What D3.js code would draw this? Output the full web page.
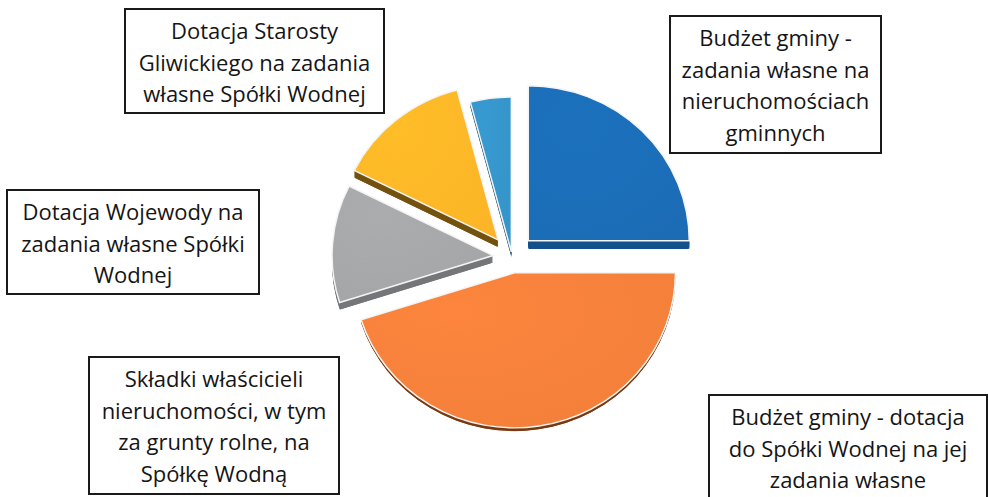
<!DOCTYPE html>
<html lang="pl">
  <head>
    <meta charset="UTF-8" />
    <title>pie - d3</title>
    <script src="https://d3js.org/d3.v7.min.js"></script>
  </head>
  <style>
    html,
    body {
      margin: 0;
      padding: 0;
      background: #fff;
    }
    svg {
      display: block;
    }
    .box rect {
      fill: #fff;
      stroke: #1a1a1a;
      stroke-width: 2;
    }
    .box text {
      font-family: "Open Sans", sans-serif;
      font-size: 22px;
      fill: #151515;
      text-anchor: middle;
    }
  </style>
  <body>
    <script>
      // dane
      var categories = [
        "Budżet gminy - zadania własne na nieruchomościach gminnych",
        "Budżet gminy - dotacja do Spółki Wodnej na jej zadania własne",
        "Składki właścicieli nieruchomości, w tym za grunty rolne, na Spółkę Wodną",
        "Dotacja Wojewody na zadania własne Spółki Wodnej",
        "Dotacja Starosty Gliwickiego na zadania własne Spółki Wodnej",
      ];
      var values = [25.0, 45.1, 12.3, 13.5, 4.1];
      var labelLines = [
        ["Budżet gminy -", "zadania własne na", "nieruchomościach", "gminnych"],
        ["Budżet gminy - dotacja", "do Spółki Wodnej na jej", "zadania własne"],
        ["Składki właścicieli", "nieruchomości, w tym", "za grunty rolne, na", "Spółkę Wodną"],
        ["Dotacja Wojewody na", "zadania własne Spółki", "Wodnej"],
        ["Dotacja Starosty", "Gliwickiego na zadania", "własne Spółki  Wodnej"],
      ];

      // wygląd
      var topColors = ["#1b6cb5", "#f27f3a", "#a3a5a7", "#fbb526", "#3594c8"];
      var sideColors = ["#12508a", "#7a3a12", "#75777a", "#74520f", "#1d5a7c"];
      var explode = [23, 16, 19, 22, 5];
      var depth = [9, 4, 8, 8, 6];
      var boxes = [
        { x: 670, y: 16, w: 211, h: 137 },
        { x: 709, y: 395, w: 278, h: 110 },
        { x: 89, y: 357, w: 250, h: 137 },
        { x: 7, y: 190, w: 252, h: 104 },
        { x: 125, y: 9, w: 259, h: 104 },
      ];

      var width = 988,
        height = 497;
      var cx = 512,
        cy = 257,
        r = 161,
        squash = 0.963;

      var svg = d3
        .select("body")
        .append("svg")
        .attr("width", width)
        .attr("height", height);

      var defs = svg.append("defs");
      topColors.forEach(function (c, i) {
        var g = defs
          .append("radialGradient")
          .attr("id", "grad" + i)
          .attr("cx", "30%")
          .attr("cy", "25%")
          .attr("r", "90%");
        g.append("stop").attr("offset", "0%").attr("stop-color", d3.color(c).brighter(0.12));
        g.append("stop").attr("offset", "100%").attr("stop-color", c);
      });

      var pie = d3
        .pie()
        .sort(null)
        .value(function (d) {
          return d;
        });
      var arcs = pie(values);
      var arc = d3.arc().innerRadius(0).outerRadius(r);

      arcs.forEach(function (d, i) {
        var mid = (d.startAngle + d.endAngle) / 2;
        d.index = i;
        d.dx = Math.sin(mid) * explode[i];
        d.dy = -Math.cos(mid) * explode[i];
        d.order = -Math.cos(mid);
      });

      // od tyłu do przodu
      var ordered = arcs.slice().sort(function (a, b) {
        return a.order - b.order;
      });

      var slices = svg
        .append("g")
        .selectAll("g.slice")
        .data(ordered)
        .enter()
        .append("g")
        .attr("class", "slice");

      slices.each(function (d) {
        var g = d3.select(this);
        var i = d.index;
        // bok (grubość)
        var k0 = depth[i];
        g.append("path")
          .attr("d", arc(d))
          .attr(
            "transform",
            "translate(" + (cx + d.dx) + "," + (cy + d.dy + k0) + ") scale(1," + squash + ")"
          )
          .attr("fill", sideColors[i])
          .attr("stroke", "#fff")
          .attr("stroke-width", 1.5);
        for (var k = k0 - 1; k >= 1; k--) {
          g.append("path")
            .attr("d", arc(d))
            .attr(
              "transform",
              "translate(" + (cx + d.dx) + "," + (cy + d.dy + k) + ") scale(1," + squash + ")"
            )
            .attr("fill", sideColors[i]);
        }
        // wierzch
        g.append("path")
          .attr("d", arc(d))
          .attr(
            "transform",
            "translate(" + (cx + d.dx) + "," + (cy + d.dy) + ") scale(1," + squash + ")"
          )
          .attr("fill", "url(#grad" + i + ")")
          .attr("stroke", "#f4f4f4")
          .attr("stroke-width", 1.5);
      });

      // etykiety w ramkach
      var box = svg
        .append("g")
        .selectAll("g.box")
        .data(categories)
        .enter()
        .append("g")
        .attr("class", "box")
        .attr("transform", function (d, i) {
          return "translate(" + boxes[i].x + "," + boxes[i].y + ")";
        });

      box
        .append("rect")
        .attr("width", function (d, i) {
          return boxes[i].w;
        })
        .attr("height", function (d, i) {
          return boxes[i].h;
        });

      box.each(function (d, i) {
        var t = d3.select(this).append("text");
        labelLines[i].forEach(function (line, j) {
          t.append("tspan")
            .attr("x", boxes[i].w / 2)
            .attr("y", 30 + j * 31.5)
            .text(line);
        });
      });
    </script>
  </body>
</html>
